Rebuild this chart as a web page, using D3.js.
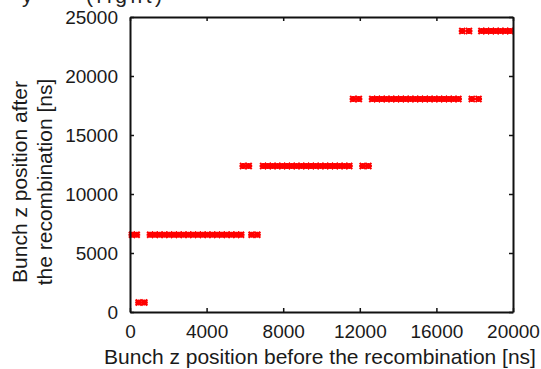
<!DOCTYPE html>
<html>
<head>
<meta charset="utf-8">
<script src="https://cdn.jsdelivr.net/npm/d3@7"></script>
<style>
  html, body { margin: 0; padding: 0; background: #fff; }
  svg { display: block; font-family: "Liberation Sans", Arial, sans-serif; }
  .axis path, .axis line { stroke: #111; }
  .axis text { fill: #1a1a1a; font-size: 19px; }
</style>
</head>
<body>
<div id="chart"></div>
<script>
// bunch z position after recombination (one row per level) and the positions before it
const levels = [800, 6550, 12370, 18050, 23810];
const row0 = [450, 750];
const row1 = [100, 350, 1050, 1300, 1550, 1800, 2050, 2300, 2550, 2800, 3050, 3300, 3550, 3800,
  4050, 4300, 4550, 4800, 5050, 5300, 5550, 5800, 6350, 6650];
const row2 = [5900, 6200, 6950, 7200, 7450, 7700, 7950, 8200, 8450, 8700, 8950, 9200, 9450, 9700,
  9950, 10200, 10450, 10700, 10950, 11200, 11450, 12150, 12450];
const row3 = [11650, 11950, 12650, 12900, 13150, 13400, 13650, 13900, 14150, 14400, 14650, 14900,
  15150, 15400, 15650, 15900, 16150, 16400, 16650, 16900, 17150, 17850, 18200];
const row4 = [17350, 17700, 18350, 18600, 18850, 19100, 19350, 19600, 19850];
const xTicks = [0, 4000, 8000, 12000, 16000, 20000];
const yTicks = [0, 5000, 10000, 15000, 20000, 25000];

const width = 541, height = 369;
const margin = { top: 17, right: 28, bottom: 57, left: 130 };
const w = width - margin.left - margin.right;
const h = height - margin.top - margin.bottom;

const svg = d3.select('#chart').append('svg')
  .attr('width', width)
  .attr('height', height);

// leftover text from the page above the figure, mostly cut off
svg.append('text').attr('x', 22).attr('y', 3).attr('font-size', 21).attr('fill', '#222').text('y');
svg.append('text').attr('x', 86).attr('y', 3).attr('font-size', 21).attr('fill', '#222')
  .attr('textLength', 76).text('(right)');

const g = svg.append('g').attr('transform', `translate(${margin.left},${margin.top})`);

const x = d3.scaleLinear().domain([0, 20000]).range([0, w]);
const y = d3.scaleLinear().domain([0, 25000]).range([h, 0]);

const points = [];
[row0, row1, row2, row3, row4].forEach((row, i) => {
  row.forEach(v => points.push({ x: v, y: levels[i] }));
});

// markers
g.append('g').selectAll('path')
  .data(points)
  .enter()
  .append('path')
  .attr('transform', d => `translate(${x(d.x)},${y(d.y)})`)
  .attr('d', 'M-3.5,0H3.5M0,-3V3M-3,-3L3,3M-3,3L3,-3')
  .attr('stroke', '#ff0000')
  .attr('stroke-width', 2)
  .attr('fill', 'none');

const fmt = d3.format('d');

// frame + inward ticks
g.append('g').attr('class', 'axis')
  .attr('transform', `translate(0,${h})`)
  .call(d3.axisBottom(x).tickValues(xTicks).tickFormat(fmt).tickSize(-4).tickPadding(13).tickSizeOuter(0));
g.append('g').attr('class', 'axis')
  .call(d3.axisTop(x).tickValues(xTicks).tickSize(-4).tickFormat('').tickSizeOuter(0));
g.append('g').attr('class', 'axis')
  .call(d3.axisLeft(y).tickValues(yTicks).tickFormat(fmt).tickSize(-4).tickPadding(12).tickSizeOuter(0));
g.append('g').attr('class', 'axis')
  .attr('transform', `translate(${w},0)`)
  .call(d3.axisRight(y).tickValues(yTicks).tickSize(-4).tickFormat('').tickSizeOuter(0));

g.selectAll('.axis path.domain').attr('stroke-width', 2);
g.selectAll('.axis .tick line').attr('stroke-width', 1.5);

// axis titles
svg.append('text')
  .attr('x', 320).attr('y', 364)
  .attr('text-anchor', 'middle')
  .attr('font-size', 21)
  .attr('fill', '#1a1a1a')
  .text('Bunch z position before the recombination [ns]');

const yTitle = svg.append('text')
  .attr('transform', 'translate(0,182) rotate(-90)')
  .attr('text-anchor', 'middle')
  .attr('font-size', 21)
  .attr('fill', '#1a1a1a');
yTitle.append('tspan').attr('x', 0).attr('y', 27).text('Bunch z position after');
yTitle.append('tspan').attr('x', 0).attr('y', 52).text('the recombination [ns]');
</script>
</body>
</html>
